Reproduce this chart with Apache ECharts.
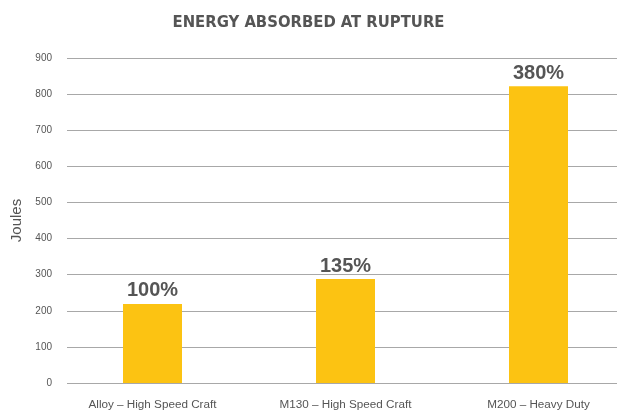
<!DOCTYPE html>
<html>
<head>
<meta charset="utf-8">
<script src="https://cdn.jsdelivr.net/npm/echarts@6/dist/echarts.min.js"></script>
<style>
html, body { margin: 0; padding: 0; background: #fff; }
#main { width: 617px; height: 411px; }
</style>
</head>
<body>
<div id="main"></div>
<script>
// data
var categories = ['Alloy – High Speed Craft', 'M130 – High Speed Craft', 'M200 – Heavy Duty'];
var joules = [219, 288, 822];
var percentLabels = ['100%', '135%', '380%'];
var yTicks = [0, 100, 200, 300, 400, 500, 600, 700, 800, 900];

var textGrey = '#555';
var lineGrey = '#a8a8a8';

var myChart = echarts.init(document.getElementById('main'));
myChart.setOption({
  animation: false,
  textStyle: { fontFamily: 'Liberation Sans' },
  title: {
    text: 'ENERGY ABSORBED AT RUPTURE',
    left: 'center',
    top: 9,
    textStyle: { color: textGrey, fontSize: 16.5, fontWeight: 'bold', fontFamily: '"DejaVu Sans Condensed", "Liberation Sans", sans-serif' }
  },
  grid: [
    // grid for the gridlines and y labels
    { left: 67, right: 0, top: 58, bottom: 28, outerBoundsMode: 'none' },
    // grid for the bars (band wider than the lines)
    { left: 56, width: 579, top: 58, bottom: 28, outerBoundsMode: 'none' }
  ],
  xAxis: [
    { gridIndex: 0, type: 'category', data: categories, show: false },
    {
      gridIndex: 1,
      type: 'category',
      data: categories,
      axisLine: { show: false },
      axisTick: { show: false },
      axisLabel: { color: textGrey, fontSize: 11.7, margin: 16 }
    }
  ],
  yAxis: [
    {
      gridIndex: 0,
      type: 'value',
      min: yTicks[0],
      max: yTicks[yTicks.length - 1],
      interval: 100,
      name: 'Joules',
      nameLocation: 'middle',
      nameGap: 42,
      nameTextStyle: { color: textGrey, fontSize: 15 },
      axisLine: { show: false },
      axisTick: { show: false },
      axisLabel: { color: textGrey, fontSize: 10, margin: 15 },
      splitLine: { lineStyle: { color: lineGrey, width: 1 } }
    },
    {
      gridIndex: 1,
      type: 'value',
      min: yTicks[0],
      max: yTicks[yTicks.length - 1],
      interval: 100,
      show: false
    }
  ],
  series: [
    {
      type: 'bar',
      xAxisIndex: 1,
      yAxisIndex: 1,
      barWidth: 59,
      data: joules,
      itemStyle: { color: '#fcc312' },
      label: {
        show: true,
        position: 'top',
        distance: 3,
        color: textGrey,
        fontSize: 20,
        fontWeight: 'bold',
        formatter: function (p) { return percentLabels[p.dataIndex]; }
      }
    }
  ]
});
</script>
</body>
</html>
